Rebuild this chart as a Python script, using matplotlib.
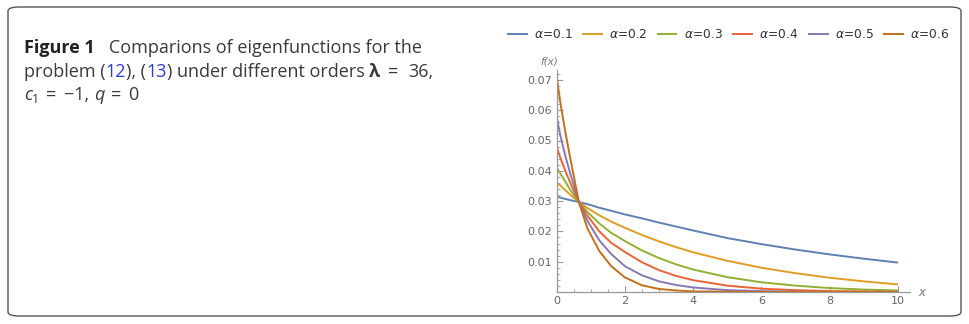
import numpy as np
import matplotlib
matplotlib.use('Agg')
import matplotlib.pyplot as plt
from matplotlib.patches import FancyBboxPatch
from matplotlib.ticker import MultipleLocator

# values
x = [0, 0.1, 0.25, 0.4, 0.65, 0.9, 1.25, 1.6, 2, 2.5, 3, 3.5, 4, 5, 6, 7, 8, 9, 10]
f_01 = [0.0315, 0.0312, 0.0307, 0.0303, 0.0297, 0.0290, 0.0278, 0.0268, 0.0256, 0.0243,
        0.0229, 0.0216, 0.0203, 0.0178, 0.0158, 0.0140, 0.0124, 0.0110, 0.0097]
f_02 = [0.0360, 0.0352, 0.0336, 0.0321, 0.0297, 0.0277, 0.0253, 0.0232, 0.0212, 0.0188,
        0.0167, 0.0148, 0.0131, 0.0103, 0.0080, 0.0062, 0.0047, 0.0035, 0.0025]
f_03 = [0.0410, 0.0392, 0.0365, 0.0337, 0.0297, 0.0264, 0.0226, 0.0195, 0.0168, 0.0137,
        0.0112, 0.0091, 0.0074, 0.0049, 0.0032, 0.0021, 0.0013, 0.0008, 0.0005]
f_04 = [0.0480, 0.0445, 0.0400, 0.0360, 0.0297, 0.0252, 0.0200, 0.0162, 0.0132, 0.0098,
        0.0072, 0.0053, 0.0039, 0.0021, 0.0011, 0.0006, 0.0003, 0.0002, 0.0001]
f_05 = [0.0577, 0.0520, 0.0450, 0.0390, 0.0297, 0.0235, 0.0170, 0.0125, 0.0085, 0.0055,
        0.0035, 0.0023, 0.0015, 0.0006, 0.0003, 0.0001, 0.0, 0.0, 0.0]
f_06 = [0.0710, 0.0630, 0.0530, 0.0440, 0.0297, 0.0210, 0.0135, 0.0085, 0.0048, 0.0022,
        0.0010, 0.0005, 0.0002, 0.0001, 0.0, 0.0, 0.0, 0.0, 0.0]

series = [f_01, f_02, f_03, f_04, f_05, f_06]
labels = ['0.1', '0.2', '0.3', '0.4', '0.5', '0.6']
colors = ['#5E81B5', '#E19C24', '#8FB032', '#EB6235', '#8778B3', '#C56E1A']

W, H = 969, 324
fig = plt.figure(figsize=(W/100, H/100), dpi=100)

# rounded frame around the whole figure
box = FancyBboxPatch((8/W, 8/H), (953/W), (309/H), boxstyle='round,pad=0,rounding_size=0.012',
                     transform=fig.transFigure, fill=False, edgecolor='#555555', linewidth=1.0)
fig.patches.append(box)

# caption, drawn piece by piece
renderer = fig.canvas.get_renderer()
cap_font = 'Open Sans'
fs = 13.0

def runs(x0, ybase, pieces):
    xp = x0
    for txt, kw in pieces:
        xp += kw.get('pre', 0)
        t = fig.text(xp/W, 1 - (ybase + kw.get('dy', 0))/H, txt, fontsize=kw.get('size', fs),
                     family=cap_font, va='baseline', ha='left', color=kw.get('color', '#3a3a3a'),
                     fontweight=kw.get('weight', 'normal'), fontstyle=kw.get('style', 'normal'))
        bb = t.get_window_extent(renderer)
        xp += bb.width + kw.get('post', 0)

runs(24, 53, [('Figure 1', {'weight': 'bold', 'color': '#222222'}),
              ('   Comparions of eigenfunctions for the', {})])
runs(24, 77, [('problem (', {}), ('12', {'color': '#2A3FD6'}), ('), (', {}),
              ('13', {'color': '#2A3FD6'}), (') under different orders ', {}),
              ('λ', {'weight': 'bold', 'post': 2}), ('=', {'pre': 6, 'post': 6}),
              ('36,', {'pre': 4})])
runs(24, 100, [('c', {'style': 'italic'}), ('1', {'size': 9, 'dy': 3}),
               ('=', {'pre': 7, 'post': 4}), ('−1, ', {'pre': 4}),
               ('q', {'style': 'italic'}), ('=', {'pre': 6, 'post': 3}), ('0', {'pre': 4})])

# plot area
x0px, x1px = 556.7, 910
y0px, y1px = 292, 70
xmax = (x1px - x0px) / 34.13
ymax = (y0px - y1px) / 3030.0
ax = fig.add_axes([x0px/W, (H - y0px)/H, (x1px - x0px)/W, (y0px - y1px)/H])
ax.set_xlim(0, xmax)
ax.set_ylim(0, ymax)
ax.patch.set_alpha(0)

for vals, lab, c in zip(series, labels, colors):
    ax.plot(x, vals, color=c, linewidth=1.4, label=r'$\alpha$=' + lab, solid_capstyle='butt')

for s in ['top', 'right']:
    ax.spines[s].set_visible(False)
for s in ['left', 'bottom']:
    ax.spines[s].set_color('#999999')
    ax.spines[s].set_linewidth(0.9)

ax.xaxis.set_major_locator(MultipleLocator(2))
ax.xaxis.set_minor_locator(MultipleLocator(0.5))
ax.yaxis.set_major_locator(MultipleLocator(0.01))
ax.yaxis.set_minor_locator(MultipleLocator(0.002))
ax.tick_params(which='both', direction='in', colors='#999999', labelcolor='#666666', labelsize=8)
ax.tick_params(which='major', length=4, width=0.8)
ax.tick_params(which='minor', length=2, width=0.6)
ax.tick_params(axis='x', pad=3)
ax.set_xticks([0, 2, 4, 6, 8, 10])
ax.set_xticklabels(['0', '2', '4', '6', '8', '10'])
ax.set_yticks([0.01, 0.02, 0.03, 0.04, 0.05, 0.06, 0.07])
ax.set_yticklabels(['0.01', '0.02', '0.03', '0.04', '0.05', '0.06', '0.07'])

ax.text(918/W, 1 - 293/H, 'x', transform=fig.transFigure, fontsize=8.5, color='#777777',
        style='italic', va='center', ha='left')
ax.text(549/W, 1 - 62/H, 'f(x)', transform=fig.transFigure, fontsize=7.5, color='#777777',
        style='italic', va='center', ha='center')

fig.legend(loc='center', bbox_to_anchor=(728/W, 1 - 35/H), ncol=6, frameon=False,
           fontsize=8.8, handlelength=1.7, handletextpad=0.5, columnspacing=0.8,
           labelcolor='#333333', borderpad=0.2)

fig.savefig('out.png', dpi=100)
